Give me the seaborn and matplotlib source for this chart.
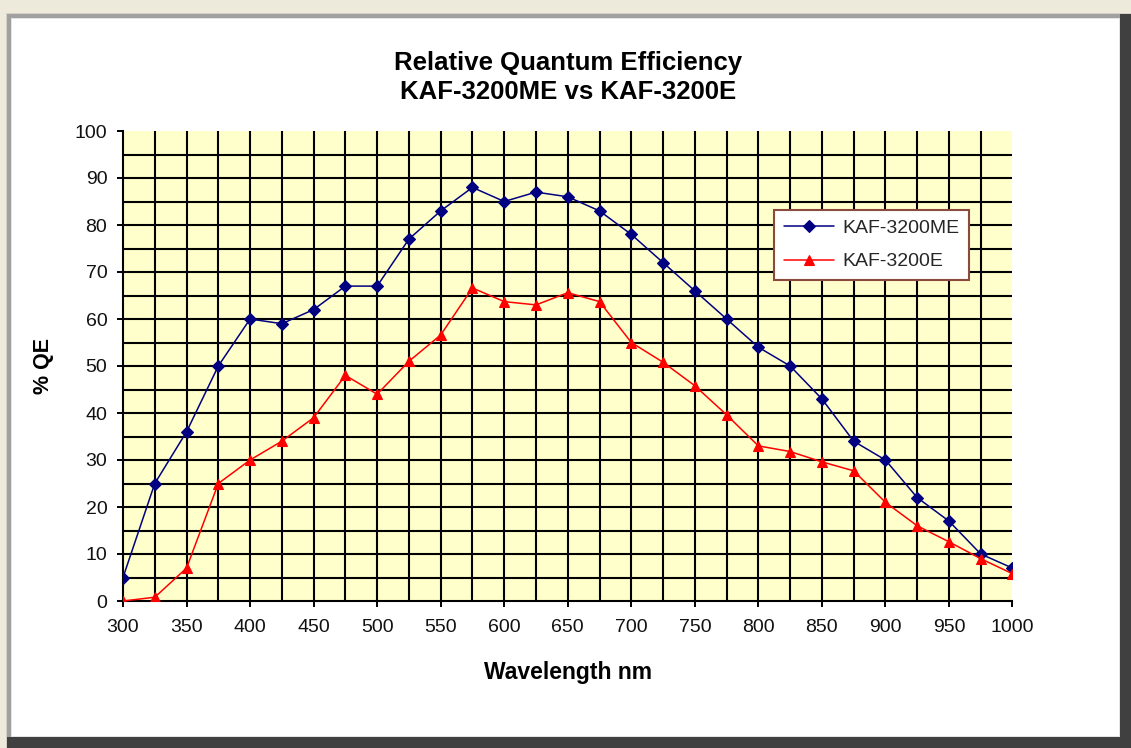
import numpy as np
import pandas as pd
import matplotlib
matplotlib.use("Agg")
import matplotlib.pyplot as plt
import seaborn as sns
from matplotlib.ticker import FixedLocator
from matplotlib.patches import Rectangle

# ---------------- data ----------------
wavelength_nm = [300, 325, 350, 375, 400, 425, 450, 475, 500, 525, 550, 575, 600, 625,
                 650, 675, 700, 725, 750, 775, 800, 825, 850, 875, 900, 925, 950, 975, 1000]
qe_kaf3200me = [5, 25, 36, 50, 60, 59, 62, 67, 67, 77, 83, 88, 85, 87,
                86, 83, 78, 72, 66, 60, 54, 50, 43, 34, 30, 22, 17, 10, 7]
qe_kaf3200e = [0, 0.8, 7, 25, 30, 34, 39, 48, 44, 51, 56.6, 66.6, 63.7, 63,
               65.6, 63.7, 55, 50.8, 45.8, 39.6, 33, 31.8, 29.6, 27.7, 21, 16, 12.6, 9, 5.8]
series_names = ["KAF-3200ME", "KAF-3200E"]
x_ticks = [300, 350, 400, 450, 500, 550, 600, 650, 700, 750, 800, 850, 900, 950, 1000]
y_ticks = [0, 10, 20, 30, 40, 50, 60, 70, 80, 90, 100]
title_lines = ["Relative Quantum Efficiency", "KAF-3200ME vs KAF-3200E"]
x_label = "Wavelength nm"
y_label = "% QE"

df_me = pd.DataFrame({"Wavelength": wavelength_nm, "QE": qe_kaf3200me})
df_e = pd.DataFrame({"Wavelength": wavelength_nm, "QE": qe_kaf3200e})

# ---------------- style ----------------
sns.set_theme(style="white")
plt.rcParams["font.family"] = ["Liberation Sans", "DejaVu Sans"]

W, H = 1131, 748
fig = plt.figure(figsize=(W / 100, H / 100), dpi=100)
fig.patch.set_facecolor("#EDEADB")


def px_rect(x0, y0, x1, y1, color):
    fig.add_artist(Rectangle((x0 / W, 1 - y1 / H), (x1 - x0) / W, (y1 - y0) / H,
                             transform=fig.transFigure, facecolor=color,
                             edgecolor="none", zorder=-10))


# window-like sunken frame
px_rect(6, 13, 1131, 748, "#D4D0C8")
px_rect(7, 14, 1131, 748, "#404040")
px_rect(7, 14, 1120, 737, "#A0A0A0")
px_rect(11, 18, 1120, 737, "#E4E4E4")
px_rect(12, 19, 1119, 736, "white")

ax_left, ax_right, ax_top, ax_bottom = 123, 1012.5, 131, 601
ax = fig.add_axes([ax_left / W, 1 - ax_bottom / H,
                   (ax_right - ax_left) / W, (ax_bottom - ax_top) / H])
ax.set_facecolor("#FFFFCC")

sns.lineplot(data=df_me, x="Wavelength", y="QE", ax=ax, color="#000080",
             marker="D", markersize=6, markeredgecolor="#000080",
             markeredgewidth=0.8, linewidth=1.1, label=series_names[0], zorder=3)
sns.lineplot(data=df_e, x="Wavelength", y="QE", ax=ax, color="#FF0000",
             marker="^", markersize=6.5, markeredgecolor="#FF0000",
             markeredgewidth=0.8, linewidth=1.1, label=series_names[1], zorder=3)

ax.set_xlim(300, 1000)
ax.set_ylim(0, 100)
ax.set_xticks(x_ticks)
ax.set_yticks(y_ticks)
ax.xaxis.set_minor_locator(FixedLocator(np.arange(325, 1000, 25)))
ax.yaxis.set_minor_locator(FixedLocator(np.arange(5, 100, 5)))
ax.xaxis.remove_overlapping_locs = False
ax.yaxis.remove_overlapping_locs = False
ax.grid(False, which="major")
ax.grid(True, which="minor", color="black", linewidth=1.5)
ax.set_axisbelow(True)

ax.tick_params(which="major", direction="out", length=4.3, width=1.4, color="black",
               labelsize=14, labelcolor="#111111", bottom=True, left=True)
ax.tick_params(axis="x", which="major", pad=8.5)
ax.tick_params(axis="y", which="major", pad=7)
ax.tick_params(which="minor", length=0)

for side in ["top", "right"]:
    ax.spines[side].set_visible(False)
for side in ["left", "bottom"]:
    ax.spines[side].set_color("black")
    ax.spines[side].set_linewidth(1.5)
    ax.spines[side].set_zorder(2.5)

ax.set_xlabel(x_label, fontsize=16.5, fontweight="bold", color="black", va="center")
ax.xaxis.set_label_coords(0.5, (ax_bottom - 673) / (ax_bottom - ax_top))
ax.set_ylabel(y_label, fontsize=15.5, fontweight="bold", color="black", va="center")
ax.yaxis.set_label_coords((43 - ax_left) / (ax_right - ax_left), 0.5)

leg = ax.legend(loc="upper left", bbox_to_anchor=(0.732, 0.832), borderaxespad=0,
                frameon=True, fancybox=False, edgecolor="#8B4A3C", facecolor="white",
                framealpha=1, fontsize=14, handlelength=2.6, handletextpad=0.4,
                labelspacing=0.8, borderpad=0.5)
leg.get_frame().set_linewidth(1.5)

fig.text((ax_left + ax_right) / 2 / W, 1 - 77.5 / H, "\n".join(title_lines),
         ha="center", va="center", fontsize=18.5, fontweight="bold",
         linespacing=1.22, color="black")

fig.savefig("out.png", dpi=100, facecolor=fig.get_facecolor())
